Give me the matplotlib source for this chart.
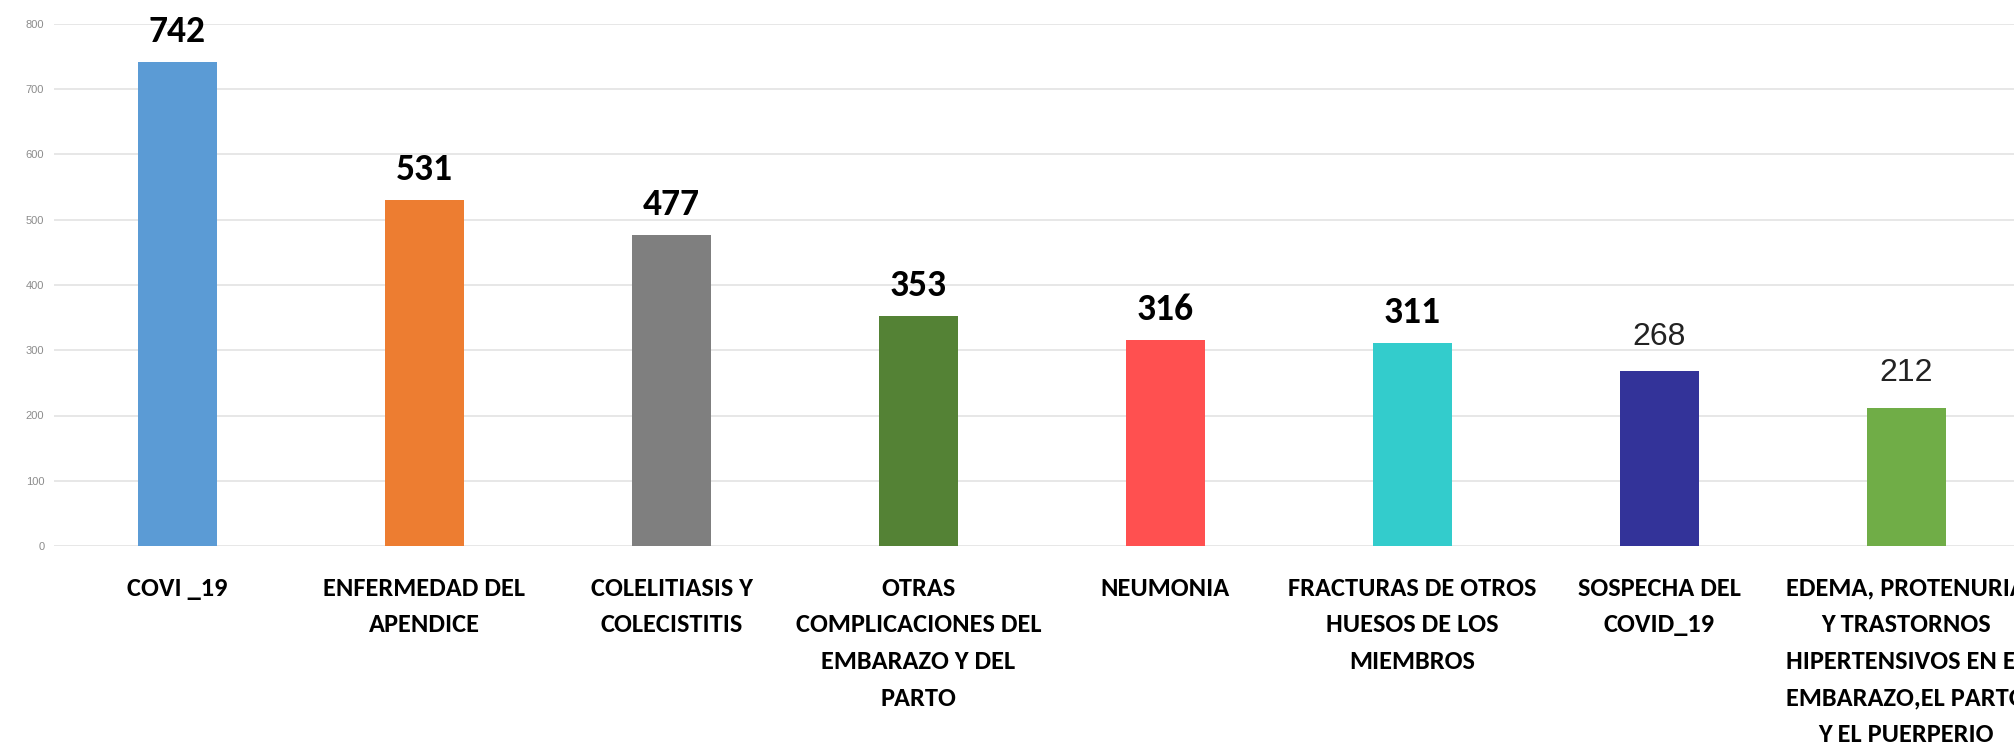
import matplotlib
matplotlib.use("Agg")
import matplotlib.pyplot as plt

categories = [
    "COVI _19",
    "ENFERMEDAD DEL\nAPENDICE",
    "COLELITIASIS Y\nCOLECISTITIS",
    "OTRAS\nCOMPLICACIONES DEL\nEMBARAZO Y DEL\nPARTO",
    "NEUMONIA",
    "FRACTURAS DE OTROS\nHUESOS DE LOS\nMIEMBROS",
    "SOSPECHA DEL\nCOVID_19",
    "EDEMA, PROTENURIA\nY TRASTORNOS\nHIPERTENSIVOS EN EL\nEMBARAZO,EL PARTO\nY EL PUERPERIO",
]
values = [742, 531, 477, 353, 316, 311, 268, 212]
bar_colors = ["#5B9BD5", "#ED7D31", "#7F7F7F", "#548235",
              "#FF5050", "#33CCCC", "#333399", "#70AD47"]
yticks = [0, 100, 200, 300, 400, 500, 600, 700, 800]

# the last two value labels are plain, the rest bold
bold_label = [True, True, True, True, True, True, False, False]

fig = plt.figure(figsize=(20.15, 7.45), dpi=100)
ax = fig.add_axes([54 / 2015, 199 / 745, (2015 - 54) / 2015, 522 / 745])

x = list(range(len(categories)))
ax.bar(x, values, width=0.32, color=bar_colors, zorder=3)

for xi, v, b in zip(x, values, bold_label):
    if b:
        ax.annotate(str(v), (xi, v), xytext=(0, 10), textcoords="offset points",
                    ha="center", va="bottom", fontsize=27, fontweight="bold",
                    family="Carlito", color="black")
    else:
        ax.annotate(str(v), (xi, v), xytext=(0, 14), textcoords="offset points",
                    ha="center", va="bottom", fontsize=23,
                    family="Liberation Sans", color="#222222")

ax.set_xlim(-0.5, 7.44)
ax.set_ylim(0, 800)
ax.set_yticks(yticks)
ax.set_yticklabels([str(t) for t in yticks], fontsize=8, color="#8C8C8C",
                   family="Liberation Sans")
ax.set_xticks(x)
ax.set_xticklabels(categories, fontsize=19, fontweight="bold", family="Carlito",
                   linespacing=1.72)
ax.tick_params(axis="both", length=0)
ax.tick_params(axis="y", pad=7)
ax.tick_params(axis="x", pad=22)
ax.grid(axis="y", color="#E3E3E3", linewidth=1.2, zorder=0)
for s in ax.spines.values():
    s.set_visible(False)

fig.savefig("out.png", dpi=100)
